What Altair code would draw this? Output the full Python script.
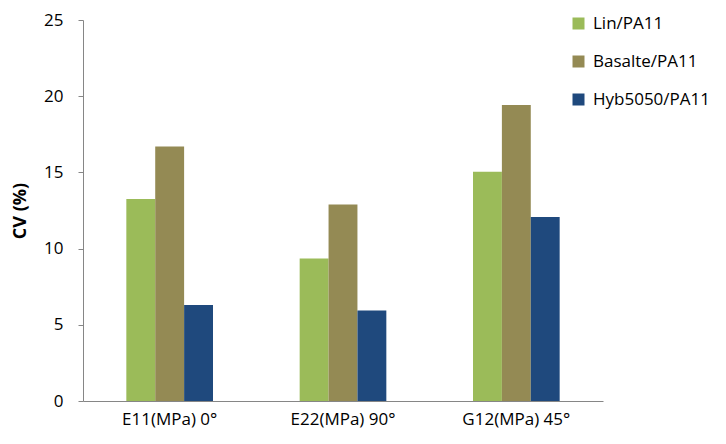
import altair as alt
import pandas as pd

categories = ["E11(MPa) 0°", "E22(MPa) 90°", "G12(MPa) 45°"]
series = ["Lin/PA11", "Basalte/PA11", "Hyb5050/PA11"]
lin = [13.25, 9.35, 15.05]
basalte = [16.7, 12.9, 19.43]
hyb = [6.3, 5.94, 12.08]
colors = ["#9BBB59", "#948A54", "#1F497D"]

rows = []
for s, vals in zip(series, [lin, basalte, hyb]):
    for c, v in zip(categories, vals):
        rows.append({"cat": c, "series": s, "cv": v})
df = pd.DataFrame(rows)

FONT = "Open Sans"

chart = alt.Chart(df).mark_bar().encode(
    x=alt.X("cat:N", sort=categories,
            scale=alt.Scale(paddingInner=0.5, paddingOuter=0.25),
            axis=alt.Axis(title=None, labelAngle=0, ticks=False, domainColor="#868686",
                          labelFont=FONT, labelFontSize=17, labelColor="#000000",
                          labelPadding=10)),
    xOffset=alt.XOffset("series:N", sort=series),
    y=alt.Y("cv:Q", scale=alt.Scale(domain=[0, 25]),
            axis=alt.Axis(title="CV (%)", values=[0, 5, 10, 15, 20, 25], grid=False,
                          domainColor="#868686", tickColor="#868686", tickSize=5,
                          labelFont=FONT, labelFontSize=17, labelColor="#000000",
                          labelPadding=15,
                          titleFont=FONT, titleFontSize=18, titleFontWeight="bold",
                          titleColor="#000000", titleAngle=270, titleX=-63, titleY=190.5,
                          titleAlign="center", titleBaseline="middle")),
    color=alt.Color("series:N", sort=series,
                    scale=alt.Scale(domain=series, range=colors),
                    legend=alt.Legend(title=None, orient="none", legendX=487, legendY=-5,
                                      symbolType="square", symbolSize=144, symbolStrokeWidth=0,
                                      labelFont=FONT, labelFontSize=17, labelColor="#000000",
                                      rowPadding=20, labelOffset=6)),
).properties(
    width=520, height=381,
    padding={"left": 75, "top": 12, "right": 110, "bottom": 30},
    autosize=alt.AutoSizeParams(type="none"),
).configure_view(stroke=None)

chart.save("out.html", embed_options={"renderer": "svg", "actions": False})
